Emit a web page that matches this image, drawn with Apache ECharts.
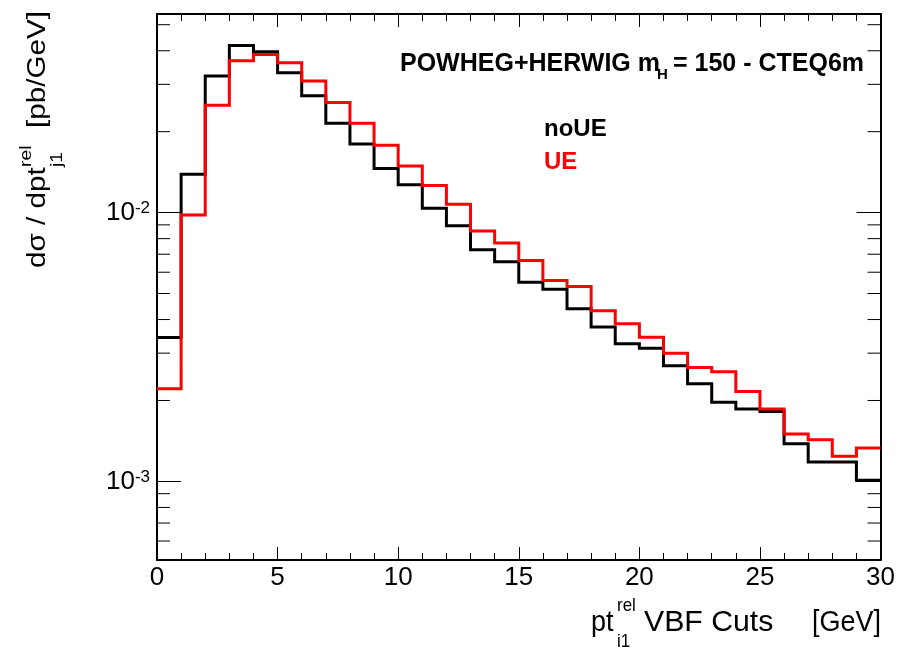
<!DOCTYPE html>
<html>
<head>
<meta charset="utf-8">
<script src="https://cdn.jsdelivr.net/npm/echarts@6/dist/echarts.min.js"></script>
<style>
html,body{margin:0;padding:0;background:#fff;}
#chart{width:898px;height:649px;}
</style>
</head>
<body>
<div id="chart"></div>
<script>
// ---- data (bin lower edges in GeV, bin width 1 GeV) ----
const binLow = [0,1,2,3,4,5,6,7,8,9,10,11,12,13,14,15,16,17,18,19,20,21,22,23,24,25,26,27,28,29];
const binHighLast = 30;
const noUE = [0.00343,0.01389,0.0322,0.0418,0.0397,0.0331,0.0272,0.0215,0.0180,0.01458,
              0.01268,0.01038,0.00893,0.00727,0.00656,0.00551,0.00519,0.00439,0.00375,0.00325,
              0.00313,0.00269,0.00231,0.00197,0.00186,0.00182,0.00138,0.00118,0.00118,0.00101];
const UE   = [0.00221,0.0098,0.0251,0.0367,0.0387,0.0361,0.0309,0.0257,0.0215,0.0178,
              0.01491,0.0126,0.01074,0.00855,0.0077,0.00663,0.00559,0.00531,0.00431,0.00386,
              0.00344,0.0030,0.00265,0.00256,0.00216,0.00186,0.0015,0.00143,0.00124,0.00133];
const yMin = 5.1e-4, yMax = 0.0548;
const xMin = 0, xMax = 30;
const yMinorTicks = [6e-4,7e-4,8e-4,9e-4,2e-3,3e-3,4e-3,5e-3,6e-3,7e-3,8e-3,9e-3,2e-2,3e-2,4e-2,5e-2];
const titleParts = ['POWHEG+HERWIG m', 'H', '= 150 - CTEQ6m'];
const legendNames = ['noUE', 'UE'];

const FONT = "'Liberation Sans', Arial, Helvetica, sans-serif";

function stepData(vals) {
  const d = binLow.map((x, i) => [x, vals[i]]);
  d.push([binHighLast, vals[vals.length - 1]]);
  return d;
}

function txt(x, base, s, fs, opts) {
  opts = opts || {};
  const sy = opts.sy || 1;
  return {
    type: 'text',
    x: x, y: base - 0.33 * fs * sy,
    scaleX: opts.sx || 1, scaleY: sy,
    style: {
      text: s,
      font: (opts.bold ? 'bold ' : '') + fs + 'px ' + FONT,
      fill: opts.color || '#000',
      align: opts.align || 'left',
      verticalAlign: 'middle'
    },
    z: 100
  };
}

const chart = echarts.init(document.getElementById('chart'), null, {renderer: 'canvas'});

const xCommon = {
  type: 'value', min: xMin, max: xMax, interval: 5,
  axisLine: {show: true, onZero: false, lineStyle: {color: '#000', width: 2}},
  axisTick: {show: true, inside: true, length: 13, lineStyle: {color: '#000', width: 1}},
  minorTick: {show: true, splitNumber: 5, length: 7, lineStyle: {color: '#000', width: 1}},
  splitLine: {show: false}, minorSplitLine: {show: false}
};
const yCommon = {
  type: 'log', logBase: 10, min: yMin, max: yMax,
  axisLine: {show: true, onZero: false, lineStyle: {color: '#000', width: 2}},
  axisTick: {show: true, inside: true, length: 24, lineStyle: {color: '#000', width: 1}},
  splitLine: {show: false}
};

function isPow10(v) {
  const l = Math.log10(v);
  return Math.abs(l - Math.round(l)) < 1e-6;
}

const option = {
  backgroundColor: '#fff',
  animation: false,
  grid: {left: 157, right: 17, top: 14, bottom: 89, containLabel: false},
  xAxis: [
    Object.assign({}, xCommon, {
      position: 'bottom',
      axisLabel: {show: true, fontSize: 26, fontFamily: FONT, color: '#000', margin: 5}
    }),
    Object.assign({}, xCommon, {position: 'top', axisLabel: {show: false}})
  ],
  yAxis: [
    Object.assign({}, yCommon, {
      position: 'left',
      axisLabel: {
        show: true, margin: 7, fontFamily: FONT, color: '#000',
        showMinLabel: false, showMaxLabel: false,
        formatter: function (v) {
          if (!isPow10(v)) return '';
          return '{b|10}{s|' + Math.round(Math.log10(v)) + '}';
        },
        rich: {
          b: {fontSize: 26, lineHeight: 26, fontFamily: FONT, color: '#000', padding: [9, 0, 0, 0], verticalAlign: 'bottom'},
          s: {fontSize: 17, lineHeight: 17, fontFamily: FONT, color: '#000', verticalAlign: 'top'}
        }
      }
    }),
    Object.assign({}, yCommon, {position: 'right', axisLabel: {show: false}})
  ],
  series: [
    {
      name: legendNames[0], type: 'line', step: 'end', data: stepData(noUE),
      xAxisIndex: 0, yAxisIndex: 0, showSymbol: false, symbol: 'none',
      lineStyle: {color: '#000', width: 3, join: 'miter'}, z: 3
    },
    {
      name: legendNames[1], type: 'line', step: 'end', data: stepData(UE),
      xAxisIndex: 0, yAxisIndex: 0, showSymbol: false, symbol: 'none',
      lineStyle: {color: '#ff0000', width: 3, join: 'miter'}, z: 4
    },
    {
      type: 'custom', xAxisIndex: 0, yAxisIndex: 0, silent: true, clip: false,
      data: yMinorTicks.map(v => [xMin, v]),
      encode: {x: 0, y: 1},
      renderItem: function (params, api) {
        const v = api.value(1);
        const pl = api.coord([xMin, v]);
        const pr = api.coord([xMax, v]);
        const st = {stroke: '#000', lineWidth: 1};
        return {
          type: 'group',
          children: [
            {type: 'line', shape: {x1: pl[0], y1: pl[1], x2: pl[0] + 13, y2: pl[1]}, style: st},
            {type: 'line', shape: {x1: pr[0] - 13, y1: pr[1], x2: pr[0], y2: pr[1]}, style: st}
          ]
        };
      },
      z: 5
    }
  ],
  graphic: [
    // title
    txt(400, 72, titleParts[0], 25, {bold: true}),
    txt(657, 80, titleParts[1], 15, {bold: true}),
    txt(673, 72, titleParts[2], 25, {bold: true}),
    // legend labels
    txt(544, 137, legendNames[0], 24, {bold: true, color: '#000'}),
    txt(544, 170, legendNames[1], 24, {bold: true, color: '#ff0000'}),
    // x axis title
    txt(591, 633, 'pt', 27, {sy: 1.12}),
    txt(617, 612, 'rel', 17, {sy: 1.12}),
    txt(617, 648, 'i1', 17, {sy: 1.12}),
    txt(644, 633, 'VBF Cuts', 27, {sy: 1.12, sx: 1.12}),
    txt(881, 633, '[GeV]', 27, {align: 'right', sy: 1.12}),
    // y axis title (rotated group)
    {
      type: 'group', x: 46, y: 268, rotation: Math.PI / 2,
      children: [
        txt(0, 0, 'd\u03c3 / dpt', 26, {sx: 1.14}),
        txt(101, -14, 'rel', 17, {sx: 1.14}),
        txt(101, 17, 'j1', 17, {sx: 1.14}),
        txt(140, 0, '[pb/GeV]', 26, {sx: 1.14})
      ]
    }
  ]
};
chart.setOption(option);
</script>
</body>
</html>
